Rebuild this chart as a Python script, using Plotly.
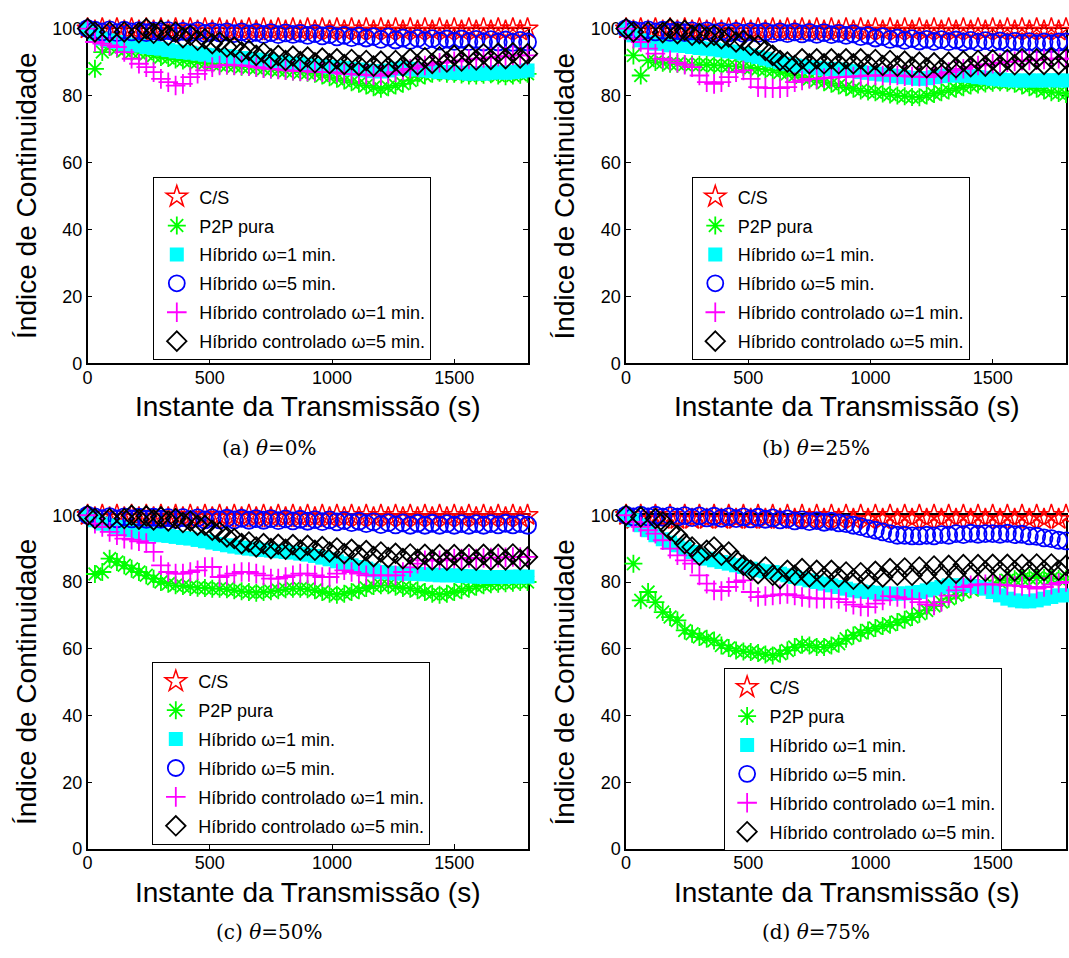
import plotly.graph_objects as go

# ---------------- data ----------------
t = list(range(0, 1801, 30))  # instante da transmissão (s)

series_names = ["C/S", "P2P pura", "Híbrido ω=1 min.", "Híbrido ω=5 min.",
                "Híbrido controlado ω=1 min.", "Híbrido controlado ω=5 min."]

# ---- (a) theta = 0% ----
cs_a = [100, 99.3, 100, 99.3, 100, 99.3, 100, 99.3, 100, 99.3,
        100, 99.3, 100, 99.3, 100, 99.3, 100, 99.3, 100, 99.3,
        100, 99.3, 100, 99.3, 100, 99.3, 100, 99.3, 100, 99.3,
        100, 99.3, 100, 99.3, 100, 99.3, 100, 99.3, 100, 99.3,
        100, 99.3, 100, 99.3, 100, 99.3, 100, 99.3, 100, 99.3,
        100, 99.3, 100, 99.3, 100, 99.3, 100, 99.3, 100, 99.3,
        100]
p2p_a = [None, 88, 93, 94.5, 94, 93.5, 93, 92.8, 92.5, 92,
         91.5, 91.2, 90.8, 90.5, 90.2, 90, 89.7, 89.5, 89.2, 89,
         88.8, 88.6, 88.5, 88.3, 88, 87.8, 87.6, 87.4, 87.2, 87,
         86.8, 86.5, 86, 85.5, 85, 84.5, 84, 83.5, 83, 82.5,
         82, 82.5, 83, 83.5, 84.5, 85.5, 86, 86.5, 86.8, 86.5,
         86.5, 86.3, 86, 86, 86.2, 86.4, 86, 85.8, 86, 86.2,
         86.5]
h1_a = [100, 98.5, 97, 96.5, 96, 95.5, 95, 95, 94.5, 94.2,
        94, 93.6, 93.2, 93, 92.8, 92.5, 92.2, 92, 92, 91.8,
        91.5, 91.2, 91, 90.8, 90.5, 90.3, 90, 89.8, 89.5, 89.5,
        89.2, 89, 88.8, 88.6, 88.4, 88.2, 88, 87.8, 87.5, 87.3,
        87.2, 87.5, 88, 88.2, 88, 87.8, 87.5, 87.3, 87, 87,
        86.8, 86.8, 86.5, 86.7, 86.5, 86.8, 87, 86.8, 87, 87.2,
        87.5]
h5_a = [100, 99.5, 99, 99.6, 98.8, 99.5, 99, 99.4, 98.8, 99.3,
        99, 99.4, 98.7, 99.2, 98.8, 99.3, 98.6, 99.1, 98.7, 99,
        98.5, 99, 98.4, 98.9, 98.3, 98.8, 98.2, 98.7, 98.3, 98.6,
        98, 98.5, 97.8, 98.2, 97.5, 98, 97.3, 97.8, 97.2, 97.6,
        96.8, 97.5, 96.6, 97.2, 96.5, 97.1, 96.4, 97, 96.3, 96.9,
        96.2, 96.9, 96.1, 96.8, 96, 96.7, 96, 96.6, 95.9, 96.5,
        96]
ch1_a = [100, 96, 95.5, 95, 94.5, 93, 91, 89.5, 88.5, 87,
         85, 84, 83, 83.5, 85.5, 86.5, 87.5, 88.5, 89, 89.2,
         89, 89, 88.8, 88.5, 88.2, 88, 87.8, 87.6, 87.4, 87.3,
         87.2, 87.1, 87, 87, 86.8, 86.5, 86.5, 86.3, 86.2, 86,
         86, 86.5, 87, 87.5, 88, 88.5, 89, 89.5, 89.8, 90,
         90.2, 90.5, 90.8, 91, 91.2, 91.4, 91.6, 91.8, 92, 92,
         92]
ch5_a = [100, 99, 100.5, 99, 100.5, 99, 100.3, 98.8, 100, 98.6,
         99.5, 98, 99, 97.3, 98, 96.5, 97, 95.5, 96, 94.5,
         94.5, 93, 93.5, 92, 92.8, 91, 92, 90.5, 91.8, 90.2,
         91.5, 89.8, 91.2, 89.5, 91, 89.3, 90.8, 89, 90.5, 88.8,
         90.3, 88.5, 90.5, 88.8, 91, 89.2, 91.3, 89.6, 91.6, 90,
         92, 90.3, 92.3, 90.6, 92.5, 90.8, 92.7, 91, 92.8, 91.2,
         92.5]

# ---- (b) theta = 25% ----
cs_b = [100, 99.3, 100, 99.3, 100, 99.3, 100, 99.3, 100, 99.3,
        100, 99.3, 100, 99.3, 100, 99.3, 100, 99.3, 100, 99.3,
        100, 99.3, 100, 99.3, 100, 99.3, 100, 99.3, 100, 99.3,
        100, 99.3, 100, 99.3, 100, 99.3, 100, 99.3, 100, 99.3,
        100, 99.3, 100, 99.3, 100, 99.3, 100, 99.3, 100, 99.3,
        100, 99.3, 100, 99.3, 100, 99.3, 100, 99.3, 100, 99.3,
        100]
p2p_b = [None, 92, 86, 90.5, 90, 89.8, 89.5, 89.5, 89.3, 89.3,
         89.2, 89.2, 89, 89, 88.8, 88.7, 88.5, 88.3, 88, 87.8,
         87.5, 87, 86.5, 86, 85.5, 85, 84.5, 84, 83.5, 83,
         82.5, 82, 81.5, 81.2, 81, 80.6, 80.3, 80, 79.8, 79.6,
         79.5, 80, 80.5, 81, 81.5, 82, 82.5, 83, 83.3, 83.6,
         83.8, 84, 83.8, 83.5, 83, 82.5, 82, 81.5, 81, 80.8,
         80.5]
h1_b = [100, 98, 96.5, 96, 95.5, 95.5, 95, 95, 94.8, 94.5,
        94.2, 94, 93.8, 93.5, 93.2, 93, 92.5, 92, 91.5, 91,
        90.5, 90, 89.5, 89, 88.8, 88.5, 88.3, 88, 88, 87.8,
        87.5, 87.3, 87, 86.8, 86.5, 86.3, 86, 85.8, 85.5, 85.3,
        85, 85.2, 85.5, 85.8, 86, 86, 86, 85.8, 85.5, 85.3,
        85, 84.8, 84.6, 84.5, 84.5, 84.5, 84.5, 84.5, 84.6, 84.5,
        84.5]
h5_b = [100, 99.5, 99.2, 99.6, 99, 99.5, 98.9, 99.4, 98.8, 99.3,
        98.8, 99.3, 98.7, 99.2, 98.7, 99.2, 98.6, 99.1, 98.6, 99.1,
        98.5, 99, 98.5, 99, 98.4, 98.9, 98.3, 98.8, 98.2, 98.6,
        98, 98.4, 97.6, 98, 97.2, 97.6, 96.8, 97.2, 96.5, 97,
        96.3, 96.8, 96.2, 96.7, 96.1, 96.6, 96, 96.5, 95.9, 96.4,
        95.8, 96.3, 95.7, 96.2, 95.6, 96.1, 95.5, 96, 95.5, 96,
        96]
ch1_b = [100, 97, 96, 94, 92.5, 91, 90.5, 89.8, 89.2, 88.5,
         86, 84, 83.5, 84, 85.5, 87, 87.5, 85, 82.5, 82.3,
         82.2, 82.2, 82.5, 84, 84.5, 85, 85, 85.2, 85.4, 85.5,
         85.6, 85.7, 85.8, 86, 86, 86, 86, 86, 85.8, 85.7,
         85.6, 85.5, 86, 86.5, 87, 87.5, 88, 88.5, 89, 89.3,
         89.5, 89.8, 90, 90.2, 90.4, 90.5, 90.6, 90.8, 91, 91,
         91]
ch5_b = [100, 99, 100.5, 99, 100.3, 98.8, 100, 98.5, 99.5, 98,
         98.5, 97.5, 98, 97, 97.5, 96, 96.5, 95, 95, 93.5,
         92, 90.5, 90, 89, 91, 89.5, 91, 89.5, 91, 89.5,
         91, 89.5, 91, 89.3, 90.8, 89, 90.5, 88.8, 90.3, 88.5,
         90, 88.3, 89.8, 88, 90, 88.3, 90.3, 88.6, 90.5, 88.8,
         90.7, 89, 90.8, 89.2, 91, 89.2, 91, 89.3, 91.2, 89.3,
         91]

# ---- (c) theta = 50% ----
cs_c = [100, 99.3, 100, 99.3, 100, 99.3, 100, 99.3, 100, 99.3,
        100, 99.3, 100, 99.3, 100, 99.3, 100, 99.3, 100, 99.3,
        100, 99.3, 100, 99.3, 100, 99.3, 100, 99.3, 100, 99.3,
        100, 99.3, 100, 99.3, 100, 99.3, 100, 99.3, 100, 99.3,
        100, 99.3, 100, 99.3, 100, 99.3, 100, 99.3, 100, 99.3,
        100, 99.3, 100, 99.3, 100, 99.3, 100, 99.3, 100, 99.3,
        100]
p2p_c = [None, 82.4, 83, 87, 86, 85, 84, 83, 82, 81,
         80, 79.5, 79, 78.8, 78.5, 78.3, 78.2, 78, 78, 77.8,
         77.5, 77.2, 77, 76.8, 77, 77.2, 77.5, 77.8, 78, 78,
         77.8, 77.5, 77, 76.5, 76.2, 76.5, 77, 77.5, 78.2, 78.8,
         79, 79, 78.6, 78.2, 78, 77.5, 77, 76.5, 76.2, 76.5,
         77, 77.5, 78, 78.6, 79, 79.3, 79.5, 79.6, 79.8, 80,
         80]
h1_c = [100, 98.5, 97.5, 97, 96.5, 96, 95.5, 95, 94.5, 94.2,
        94, 93.8, 93.5, 93.2, 93, 92.6, 92.2, 91.8, 91.4, 91,
        90.6, 90.3, 90, 89.8, 89.6, 89.4, 89.2, 89, 88.8, 88.5,
        88.2, 87.8, 87.3, 86.8, 86.2, 85.6, 85, 84.5, 84, 83.5,
        83, 82.8, 82.6, 82.5, 82.5, 82.4, 82.3, 82.2, 82, 82,
        82, 81.8, 81.7, 81.6, 81.5, 81.5, 81.5, 81.5, 81.6, 81.6,
        81.6]
h5_c = [100, 99.5, 99, 99.6, 98.9, 99.5, 98.9, 99.4, 98.8, 99.4,
        98.8, 99.3, 98.7, 99.3, 98.7, 99.2, 98.6, 99.2, 98.6, 99.1,
        98.6, 99.1, 98.5, 99, 98.5, 99, 98.4, 98.9, 98.3, 98.8,
        98.2, 98.7, 98.1, 98.6, 98, 98.4, 97.8, 98.2, 97.5, 98,
        97.2, 97.8, 97.1, 97.7, 97, 97.6, 97, 97.6, 97, 97.5,
        97, 97.5, 97, 97.5, 97, 97.5, 97.1, 97.6, 97.1, 97.5,
        97]
ch1_c = [100, 97.5, 96.5, 95, 94, 93, 92.7, 92.2, 91.7, 89,
         85, 83, 82.5, 82.5, 83, 83.5, 84.5, 84.5, 81.5, 82,
         82.5, 83, 83, 82.5, 82, 81, 81, 81.5, 82, 82.5,
         82.5, 82, 81.5, 81.5, 82.5, 83.5, 83, 82.5, 82, 82,
         82, 82, 82, 83, 84.4, 85.5, 86.5, 86.5, 86.5, 86.8,
         87, 87, 87.2, 87, 87.2, 87.3, 87.3, 87.4, 87.5, 87.5,
         87.5]
ch5_c = [100, 99, 100.5, 99, 100.3, 99, 100, 98.8, 99.8, 98.6,
         99.5, 98.3, 99, 97.8, 98.3, 97, 97, 95.5, 95, 93.5,
         93, 91.5, 92, 90.5, 91.5, 90, 91.3, 89.8, 91.2, 89.6,
         91, 89.5, 90.6, 89, 90.2, 88.5, 89.8, 88, 89.4, 87.6,
         89, 87.3, 88.6, 87, 88.4, 86.8, 88.3, 86.6, 88.2, 86.5,
         88.2, 86.5, 88.2, 86.5, 88.3, 86.6, 88.3, 86.6, 88.4, 86.7,
         87.5]

# ---- (d) theta = 75% ----
cs_d = [100, 98.8, 100, 98.8, 100, 98.8, 100, 98.8, 100, 98.8,
        100, 98.8, 100, 98.8, 100, 98.8, 100, 98.8, 100, 98.8,
        100, 98.8, 100, 98.8, 100, 98.8, 100, 98.8, 100, 98.8,
        100, 98.8, 100, 98.8, 100, 98.8, 100, 98.8, 100, 98.8,
        100, 98.8, 100, 98.8, 100, 98.8, 100, 98.8, 100, 98.8,
        100, 98.8, 100, 98.8, 100, 98.8, 100, 98.8, 100, 98.8,
        100]
p2p_d = [None, 85.5, 74.5, 77, 74, 71, 69.5, 68.5, 65.5, 64.5,
         63.5, 63, 62.5, 61, 60.2, 59.5, 59.2, 59, 58.7, 58.3,
         58, 58.5, 59.5, 60.5, 61.2, 61, 60.5, 60.5, 61, 61.5,
         63, 64, 64.8, 65.5, 66.2, 66.8, 67.2, 68, 68.7, 69.5,
         70.5, 71.5, 72.8, 74, 75, 76, 77, 77.8, 78.3, 78.8,
         79.3, 79.8, 80.5, 80.8, 81, 81.2, 81.2, 81.2, 81, 81,
         80.8]
h1_d = [100, 98.5, 97, 95.5, 94, 92.8, 91.8, 91, 90, 89,
        88, 87, 86.5, 86, 85.5, 85, 84.5, 84, 83.5, 83.2,
        83, 82.5, 82, 81.5, 81, 80.5, 80, 79.5, 79, 78.5,
        78, 77.5, 77.2, 77, 76.8, 76.6, 76.5, 76.5, 76.6, 76.8,
        77, 77.5, 78, 78.5, 79, 79, 79, 78.8, 78.5, 78,
        77, 76, 75, 74.5, 74.2, 74.2, 74.5, 75, 75.5, 76,
        76]
h5_d = [100, 99.5, 100, 99.5, 100, 99.4, 99.9, 99.4, 99.9, 99.3,
        99.8, 99.2, 99.7, 99.1, 99.6, 99, 99.5, 98.9, 99.4, 98.8,
        99.2, 98.6, 98.9, 98.3, 98.6, 98.1, 98.4, 97.9, 98.2, 97.7,
        97.5, 97, 96.6, 96, 95.5, 95, 94.5, 94, 94, 93.8,
        93.8, 94, 93.8, 94.2, 94, 94.5, 94.2, 94.6, 94.3, 94.5,
        94.5, 94.3, 94.6, 94.2, 94.3, 93.8, 93.7, 93.2, 93, 92.5,
        92.3]
ch1_d = [100, 98, 96.5, 95.5, 94.5, 92.5, 90, 88, 86.5, 85.5,
         82, 79.5, 77.5, 77.3, 78.5, 80, 80.5, 77, 75.5, 75.8,
         76, 76.3, 76.4, 76, 75.5, 75.2, 75, 75, 75, 74.9,
         74, 73.2, 72.7, 72.5, 73.5, 74.5, 75.8, 75.5, 75, 74.9,
         74, 73.3, 73, 74, 75.9, 77.5, 78.5, 79, 79.3, 79.3,
         79.3, 79.2, 79, 78.9, 78.8, 78.5, 78, 78.5, 79.2, 79.7,
         80]
ch5_d = [100, 101, 99.5, 101, 99, 98, 95.5, 94, 91.5, 90.5,
         88, 89.5, 90.5, 88, 89, 86.5, 85, 83.5, 82.5, 84.5,
         82, 81, 83.5, 82, 84, 81.5, 83.5, 81.5, 83.5, 81.5,
         83, 80.8, 82.8, 81, 83.2, 81.5, 84, 82, 84.2, 82,
         84.5, 82.3, 84.8, 82.5, 85, 82.6, 85.2, 83, 85.2, 83.2,
         85.3, 83.3, 85.3, 83.3, 85.3, 83.4, 85.4, 83.4, 85.4, 83.5,
         85]

panels = [
    [cs_a, p2p_a, h1_a, h5_a, ch1_a, ch5_a],
    [cs_b, p2p_b, h1_b, h5_b, ch1_b, ch5_b],
    [cs_c, p2p_c, h1_c, h5_c, ch1_c, ch5_c],
    [cs_d, p2p_d, h1_d, h5_d, ch1_d, ch5_d],
]
captions = ["(a) <i>θ</i>=0%", "(b) <i>θ</i>=25%", "(c) <i>θ</i>=50%", "(d) <i>θ</i>=75%"]
x_ticks = [0, 500, 1000, 1500]
y_ticks = [0, 20, 40, 60, 80, 100]

# ---------------- styles ----------------
W, H = 1069, 958
styles = [
    dict(symbol="star-open", size=16, color="#ff0000", lw=1.5),
    dict(symbol="asterisk-open", size=15, color="#00ff00", lw=1.8),
    dict(symbol="square", size=14, color="#00ffff", lw=0),
    dict(symbol="circle-open", size=17, color="#0000ff", lw=1.8),
    dict(symbol="cross-thin-open", size=14, color="#ff00ff", lw=1.8),
    dict(symbol="diamond-open", size=15, color="#000000", lw=1.8),
]
FONT = "Arial"

# axis boxes in pixels: (left, right, top(y=100), bottom(y=0))
boxes = [(83, 525, 19, 361), (624, 1066, 19, 361),
         (83, 525, 516, 857), (624, 1066, 516, 857)]
legend_pos = [(149, 171), (690, 171), (148, 666), (722, 672)]
cap_pos = [(265, 447), (815, 447), (265, 942), (815, 942)]

fig = go.Figure()
layout = dict(width=W, height=H, margin=dict(l=0, r=0, t=0, b=0),
              paper_bgcolor="white", plot_bgcolor="white", showlegend=True,
              font=dict(family=FONT, color="black"))
annotations = []

for k, data in enumerate(panels):
    sfx = "" if k == 0 else str(k + 1)
    lname = "legend" if k == 0 else "legend" + str(k + 1)
    for j, (name, ys) in enumerate(zip(series_names, data)):
        st = styles[j]
        fig.add_trace(go.Scatter(
            x=t, y=ys, mode="markers", name=name,
            xaxis="x" + sfx, yaxis="y" + sfx, legend=lname,
            legendgroup=f"g{k}_{j}",
            cliponaxis=False,
            marker=dict(symbol=st["symbol"], size=st["size"], color=st["color"],
                        line=dict(color=st["color"], width=st["lw"])),
        ))
    l, r, tp, bt = boxes[k]
    ax = dict(linecolor="black", linewidth=1.5, showline=True, mirror="ticks",
              ticks="inside", ticklen=5, tickwidth=1, tickcolor="black",
              showgrid=False, zeroline=False, layer="below traces",
              tickfont=dict(family=FONT, size=18, color="black"))
    layout["xaxis" + sfx] = dict(ax, domain=[l / W, r / W], range=[0, 1800],
                                 tickvals=x_ticks, anchor="y" + sfx,
                                 ticklabelstandoff=-3)
    layout["yaxis" + sfx] = dict(ax, domain=[1 - bt / H, 1 - tp / H], range=[0, 100],
                                 tickvals=y_ticks, anchor="x" + sfx)
    lx, ly = legend_pos[k]
    layout[lname] = dict(x=lx / W, y=1 - ly / H, xanchor="left", yanchor="top",
                         bgcolor="white", bordercolor="black", borderwidth=1,
                         font=dict(family=FONT, size=18, color="black"),
                         traceorder="grouped", tracegroupgap=2.5, itemwidth=35)
    # axis titles
    annotations.append(dict(text="Instante da Transmissão (s)", xref="paper", yref="paper",
                            x=((l + r) / 2) / W, y=1 - (bt + 44) / H, showarrow=False,
                            font=dict(family=FONT, size=28, color="black"),
                            xanchor="center", yanchor="middle"))
    annotations.append(dict(text="Índice de Continuidade", xref="paper", yref="paper",
                            x=(l - 62) / W, y=1 - ((tp + bt) / 2) / H, showarrow=False,
                            textangle=-90,
                            font=dict(family=FONT, size=28, color="black"),
                            xanchor="center", yanchor="middle"))
    cx, cy = cap_pos[k]
    annotations.append(dict(text=captions[k], xref="paper", yref="paper",
                            x=cx / W, y=1 - cy / H, showarrow=False,
                            font=dict(family="DejaVu Serif", size=20, color="black"),
                            xanchor="center", yanchor="middle"))

layout["annotations"] = annotations
fig.update_layout(**layout)
fig.write_html("out.html")
